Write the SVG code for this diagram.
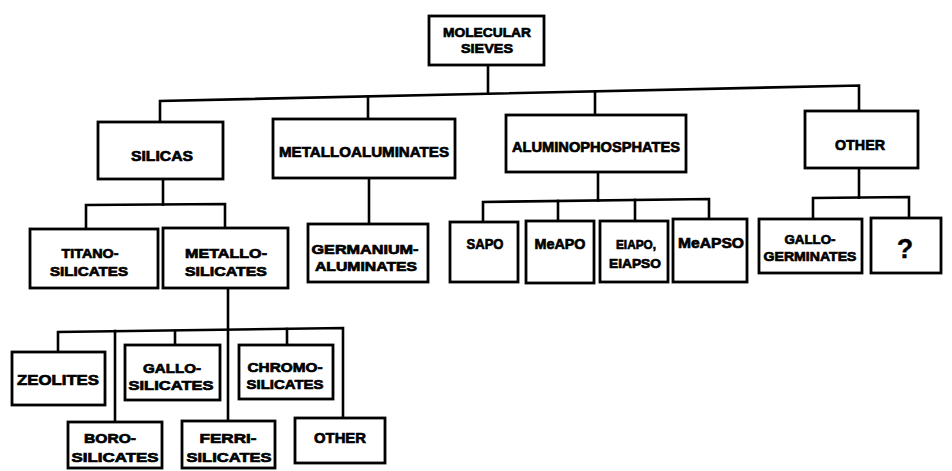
<svg xmlns="http://www.w3.org/2000/svg" width="952" height="471" viewBox="0 0 952 471">
<style>
.box{fill:#fff;stroke:#000;stroke-width:2.8}
.ln{fill:none;stroke:#000;stroke-width:2.6;stroke-linecap:square;stroke-linejoin:miter}
text{font-family:"Liberation Sans",Arial,sans-serif;font-weight:bold;font-size:15px;fill:#000;stroke:#000;stroke-width:0.7;text-anchor:middle}
.t{font-size:13.5px}
.q{font-size:27px;stroke-width:0.3}
</style>
<rect width="952" height="471" fill="#fff"/>
<g id="connectors">
<path class="ln" d="M488,65 V93"/>
<path class="ln" d="M160,122 V101 L859,85.5 V111"/>
<path class="ln" d="M368,96.5 V119"/>
<path class="ln" d="M595,91.5 V115"/>
<path class="ln" d="M163,179 V204.5"/>
<path class="ln" d="M86,229 V205 L225,204 V228"/>
<path class="ln" d="M369,178 V224"/>
<path class="ln" d="M598,172 V200.5"/>
<path class="ln" d="M483,222 V202 L709,199 V219"/>
<path class="ln" d="M558,201 V221"/>
<path class="ln" d="M635,200 V221"/>
<path class="ln" d="M859,168 V197.5"/>
<path class="ln" d="M813,219 V198 L909,197 V218"/>
<path class="ln" d="M228,288 V421"/>
<path class="ln" d="M58,352 V332 L343,328 V418"/>
<path class="ln" d="M115,331 V422"/>
<path class="ln" d="M175,331 V345"/>
<path class="ln" d="M287,329 V345"/>
</g>
<g id="molecular-sieves"><rect class="box" x="429" y="16" width="115" height="49"/><text class="t" x="487" y="37" textLength="88" lengthAdjust="spacingAndGlyphs">MOLECULAR</text><text class="t" x="487" y="53" textLength="52" lengthAdjust="spacingAndGlyphs">SIEVES</text></g>
<g id="silicas"><rect class="box" x="98" y="122" width="125" height="57"/><text x="162" y="161" textLength="62" lengthAdjust="spacingAndGlyphs">SILICAS</text></g>
<g id="metalloaluminates"><rect class="box" x="273" y="119" width="182" height="59"/><text x="364" y="157" textLength="170" lengthAdjust="spacingAndGlyphs">METALLOALUMINATES</text></g>
<g id="aluminophosphates"><rect class="box" x="506" y="115" width="180" height="57"/><text x="596" y="152" textLength="168" lengthAdjust="spacingAndGlyphs">ALUMINOPHOSPHATES</text></g>
<g id="other-top"><rect class="box" x="805" y="111" width="113" height="57"/><text x="860" y="150" textLength="50" lengthAdjust="spacingAndGlyphs">OTHER</text></g>
<g id="titanosilicates"><rect class="box" x="30" y="229" width="128" height="59"/><text class="t" x="90" y="258" textLength="57" lengthAdjust="spacingAndGlyphs">TITANO-</text><text class="t" x="89" y="276" textLength="78" lengthAdjust="spacingAndGlyphs">SILICATES</text></g>
<g id="metallosilicates"><rect class="box" x="163" y="228" width="125" height="60"/><text class="t" x="226" y="258" textLength="82" lengthAdjust="spacingAndGlyphs">METALLO-</text><text class="t" x="226" y="276" textLength="82" lengthAdjust="spacingAndGlyphs">SILICATES</text></g>
<g id="germanium-aluminates"><rect class="box" x="308" y="224" width="120" height="58"/><text class="t" x="365" y="254" textLength="107" lengthAdjust="spacingAndGlyphs">GERMANIUM-</text><text class="t" x="366" y="271" textLength="102" lengthAdjust="spacingAndGlyphs">ALUMINATES</text></g>
<g id="sapo"><rect class="box" x="450" y="222" width="68" height="60"/><text x="485" y="249" textLength="37" lengthAdjust="spacingAndGlyphs">SAPO</text></g>
<g id="meapo"><rect class="box" x="526" y="221" width="68" height="62"/><text x="560" y="249" textLength="51" lengthAdjust="spacingAndGlyphs">MeAPO</text></g>
<g id="eiapo"><rect class="box" x="600" y="221" width="68" height="61"/><text class="t" x="636" y="249" textLength="40" lengthAdjust="spacingAndGlyphs">EIAPO,</text><text class="t" x="635" y="268" textLength="52" lengthAdjust="spacingAndGlyphs">EIAPSO</text></g>
<g id="meapso"><rect class="box" x="673" y="219" width="74" height="63"/><text x="711" y="248" textLength="66" lengthAdjust="spacingAndGlyphs">MeAPSO</text></g>
<g id="gallogerminates"><rect class="box" x="759" y="219" width="103" height="54"/><text class="t" x="810" y="244" textLength="51" lengthAdjust="spacingAndGlyphs">GALLO-</text><text class="t" x="810" y="261" textLength="93" lengthAdjust="spacingAndGlyphs">GERMINATES</text></g>
<g id="unknown"><rect class="box" x="871" y="218" width="70" height="55"/><text class="q" x="905" y="258">?</text></g>
<g id="zeolites"><rect class="box" x="12" y="352" width="93" height="53"/><text x="58" y="385" textLength="82" lengthAdjust="spacingAndGlyphs">ZEOLITES</text></g>
<g id="gallosilicates"><rect class="box" x="125" y="345" width="95" height="55"/><text class="t" x="172" y="373" textLength="58" lengthAdjust="spacingAndGlyphs">GALLO-</text><text class="t" x="171" y="390" textLength="85" lengthAdjust="spacingAndGlyphs">SILICATES</text></g>
<g id="chromosilicates"><rect class="box" x="239" y="345" width="94" height="54"/><text class="t" x="285" y="372" textLength="75" lengthAdjust="spacingAndGlyphs">CHROMO-</text><text class="t" x="285" y="389" textLength="77" lengthAdjust="spacingAndGlyphs">SILICATES</text></g>
<g id="borosilicates"><rect class="box" x="68" y="422" width="94" height="46"/><text class="t" x="110" y="443" textLength="52" lengthAdjust="spacingAndGlyphs">BORO-</text><text class="t" x="115" y="462" textLength="87" lengthAdjust="spacingAndGlyphs">SILICATES</text></g>
<g id="ferrisilicates"><rect class="box" x="182" y="421" width="93" height="47"/><text class="t" x="228" y="443" textLength="57" lengthAdjust="spacingAndGlyphs">FERRI-</text><text class="t" x="229" y="462" textLength="85" lengthAdjust="spacingAndGlyphs">SILICATES</text></g>
<g id="other-bottom"><rect class="box" x="295" y="418" width="90" height="45"/><text x="340" y="443" textLength="52" lengthAdjust="spacingAndGlyphs">OTHER</text></g>
</svg>
